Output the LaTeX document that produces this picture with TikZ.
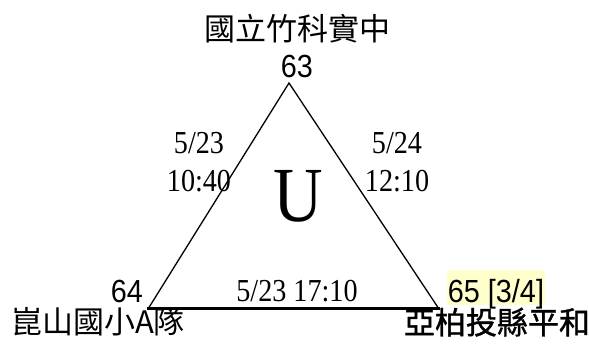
\documentclass[tikz,border=0pt]{standalone}
\usepackage{fontspec}
\usepackage{xcolor}
\usepackage{tikz}
\usetikzlibrary{positioning}
\setmainfont{Liberation Serif}[FakeStretch=0.88]
\newfontfamily\numfont{Liberation Sans}[FakeStretch=0.9]
\newfontfamily\cjk{Noto Sans CJK TC}
\newfontfamily\cjkbold{Noto Sans CJK TC}[FakeBold=1.2]
\definecolor{hlfill}{RGB}{255,255,204}

\begin{document}
\begin{tikzpicture}[
  x=1pt,y=1pt,
  team/.style={font=\fontsize{31}{34}\selectfont\cjk,inner sep=0pt,anchor=base},
  seed/.style={font=\fontsize{32}{34}\selectfont\numfont,inner sep=0pt,anchor=base},
  when/.style={font=\fontsize{32}{38}\selectfont,inner sep=0pt,align=center},
  edge/.style={line width=1.3pt},
  base/.style={line width=3pt}
]
\useasboundingbox (0,0) rectangle (589,347);

\coordinate (top) at (289,264);
\coordinate (left) at (148,38);
\coordinate (right) at (439,38);

% triangle
\draw[edge] (left) -- (top) -- (right);
\draw[base] ([xshift=-1pt]left) -- ([xshift=1pt]right);

% vertices
\node[team] (name63) at (297,306) {國立竹科實中};
\node[seed] (n63) at (297,269) {63};
\node[seed] (n64) at (127,44) {64};
\node[team] (name64) at (98,13) {崑山國小A隊};
\node[seed,fill=hlfill,text height=31pt,text depth=0pt,inner xsep=1pt,inner ysep=2pt] (n65) at (496,44) {65 [3/4]};
\node[team,font=\fontsize{31}{34}\selectfont\cjkbold] (name65) at (497,13) {亞柏投縣平和};

% games
\node[when] (g1) at (199,185) {5/23\\10:40};
\node[when] (g2) at (397,185) {5/24\\12:10};
\node[when,anchor=base] (g3) at (297,45) {5/23 17:10};
\node[font=\fontsize{78}{80}\selectfont,inner sep=0pt,anchor=base] (grp) at (298,125) {U};
\end{tikzpicture}
\end{document}
